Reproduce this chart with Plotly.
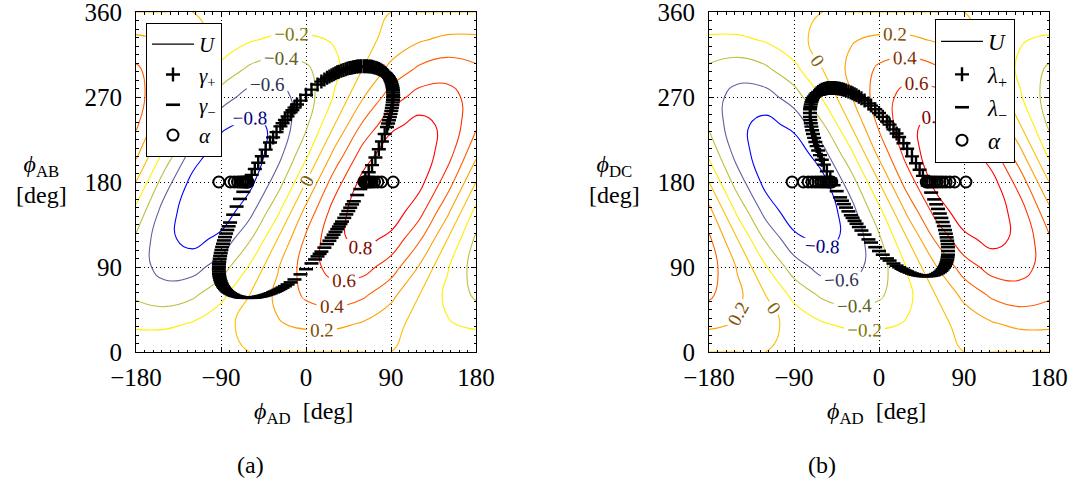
import plotly.graph_objects as go

FONT = "Liberation Serif"

# ---------------- contour field U (read on a 30 deg grid) ----------------
phi_ad_grid = [-180, -150, -120, -90, -60, -30, 0, 30, 60, 90, 120, 150, 180]
phi_y_grid = [0, 30, 60, 90, 120, 150, 180, 210, 240, 270, 300, 330, 360]

# panel (a): U(phi_AD, phi_AB), rows = phi_AB
u_ab = [
    [0, 0, 0, 0, 0, 0, 0, 0, 0, 0, 0, 0, 0],
    [-.25, -.25, -.183, -.067, .067, .183, .25, .25, .183, .067, -.067, -.183, -.25],
    [-.433, -.5, -.433, -.25, 0, .25, .433, .5, .433, .25, 0, -.25, -.433],
    [-.5, -.683, -.683, -.5, -.183, .183, .5, .683, .683, .5, .183, -.183, -.5],
    [-.433, -.75, -.866, -.75, -.433, 0, .433, .75, .866, .75, .433, 0, -.433],
    [-.25, -.683, -.933, -.933, -.683, -.25, .25, .683, .933, .933, .683, .25, -.25],
    [0, -.5, -.866, -1, -.866, -.5, 0, .5, .866, 1, .866, .5, 0],
    [.25, -.25, -.683, -.933, -.933, -.683, -.25, .25, .683, .933, .933, .683, .25],
    [.433, 0, -.433, -.75, -.866, -.75, -.433, 0, .433, .75, .866, .75, .433],
    [.5, .183, -.183, -.5, -.683, -.683, -.5, -.183, .183, .5, .683, .683, .5],
    [.433, .25, 0, -.25, -.433, -.5, -.433, -.25, 0, .25, .433, .5, .433],
    [.25, .183, .067, -.067, -.183, -.25, -.25, -.183, -.067, .067, .183, .25, .25],
    [0, 0, 0, 0, 0, 0, 0, 0, 0, 0, 0, 0, 0],
]

# panel (b): U(phi_AD, phi_DC), rows = phi_DC
u_dc = [
    [0, 0, 0, 0, 0, 0, 0, 0, 0, 0, 0, 0, 0],
    [.25, .183, .067, -.067, -.183, -.25, -.25, -.183, -.067, .067, .183, .25, .25],
    [.433, .25, 0, -.25, -.433, -.5, -.433, -.25, 0, .25, .433, .5, .433],
    [.5, .183, -.183, -.5, -.683, -.683, -.5, -.183, .183, .5, .683, .683, .5],
    [.433, 0, -.433, -.75, -.866, -.75, -.433, 0, .433, .75, .866, .75, .433],
    [.25, -.25, -.683, -.933, -.933, -.683, -.25, .25, .683, .933, .933, .683, .25],
    [0, -.5, -.866, -1, -.866, -.5, 0, .5, .866, 1, .866, .5, 0],
    [-.25, -.683, -.933, -.933, -.683, -.25, .25, .683, .933, .933, .683, .25, -.25],
    [-.433, -.75, -.866, -.75, -.433, 0, .433, .75, .866, .75, .433, 0, -.433],
    [-.5, -.683, -.683, -.5, -.183, .183, .5, .683, .683, .5, .183, -.183, -.5],
    [-.433, -.5, -.433, -.25, 0, .25, .433, .5, .433, .25, 0, -.25, -.433],
    [-.25, -.25, -.183, -.067, .067, .183, .25, .25, .183, .067, -.067, -.183, -.25],
    [0, 0, 0, 0, 0, 0, 0, 0, 0, 0, 0, 0, 0],
]

u_levels = [-0.8, -0.6, -0.4, -0.2, 0.0, 0.2, 0.4, 0.6, 0.8]
level_line_colors = ["#0000ff", "#60609f", "#bfbf40", "#ffef00", "#ffbf00",
                     "#ff9f00", "#ff6000", "#ff3000", "#ff0000"]
level_label_colors = ["#000080", "#303050", "#606020", "#807800", "#806000",
                      "#805000", "#803000", "#801800", "#800000"]

# ---------------- panel (a) markers ----------------
gamma_plus = [
    (-57.5, 187.5), (-54.2, 193.8), (-50.6, 200.4), (-46.8, 207.2), (-42.7, 214.3),
    (-38.1, 221.9), (-34.8, 227.2), (-31.2, 232.8), (-27.1, 238.9), (-24.8, 242.2),
    (-22.3, 245.7), (-19.5, 249.5), (-16.3, 253.7), (-14.4, 256.1), (-12.2, 258.8),
    (-9.5, 262.0), (-5.8, 266.2), (0.0, 272.3),
    (5.8, 277.8), (12.2, 283.2), (16.3, 286.3), (19.5, 288.5), (22.3, 290.3), (24.8, 291.8),
    (27.1, 293.1), (29.2, 294.2), (31.2, 295.2), (33.1, 296.1), (34.8, 296.8), (37.4, 297.9),
    (39.7, 298.7), (42.0, 299.5), (44.1, 300.1), (46.2, 300.7), (48.1, 301.1), (50.0, 301.5),
    (51.8, 301.8), (53.7, 302.2), (55.3, 302.3), (57.0, 302.5), (58.6, 302.6), (61.3, 302.6),
    (62.9, 302.6), (64.5, 302.5), (66.4, 302.4), (68.2, 302.2), (69.9, 301.9), (71.5, 301.5),
    (73.5, 301.0), (75.4, 300.4), (77.1, 299.6), (78.8, 298.8), (80.4, 297.9), (81.9, 296.9),
    (83.3, 295.8), (84.6, 294.6), (85.8, 293.3), (86.9, 291.9), (87.9, 290.4), (88.8, 288.8),
    (89.6, 287.1), (90.3, 285.3), (90.9, 283.4), (91.4, 281.4), (91.8, 279.3), (92.1, 277.1),
    (92.2, 274.7), (92.3, 272.3), (92.2, 269.7), (92.1, 267.1), (91.8, 264.3), (91.4, 261.4),
    (90.9, 258.4), (90.3, 255.3), (89.6, 252.1), (88.8, 248.8), (87.9, 245.4), (86.9, 241.9),
    (85.8, 238.3), (83.3, 230.8), (80.4, 222.9), (77.1, 214.6), (73.5, 206.0), (69.9, 197.9),
    (66.4, 190.4), (62.9, 183.2),
]
gamma_minus = [
    (57.5, 172.5), (54.2, 166.2), (50.6, 159.6), (48.8, 156.3), (46.8, 152.8), (44.8, 149.3),
    (42.7, 145.7), (40.5, 142.0), (38.1, 138.1), (36.5, 135.5), (34.8, 132.8), (33.1, 130.1),
    (31.2, 127.2), (29.2, 124.2), (27.1, 121.1), (24.8, 117.8), (22.3, 114.3), (19.5, 110.5),
    (16.3, 106.3), (14.4, 103.9), (12.2, 101.2), (9.5, 98.0), (5.8, 93.8), (0.0, 87.7),
    (-5.8, 82.2), (-12.2, 76.8), (-16.3, 73.7), (-19.5, 71.5), (-22.3, 69.7), (-24.8, 68.2),
    (-27.1, 66.9), (-29.2, 65.8), (-31.2, 64.8), (-33.1, 63.9), (-34.8, 63.2), (-37.4, 62.1),
    (-39.7, 61.3), (-42.0, 60.5), (-44.1, 59.9), (-46.2, 59.3), (-48.1, 58.9), (-50.0, 58.5),
    (-51.8, 58.2), (-53.7, 57.8), (-55.3, 57.7), (-57.0, 57.5), (-58.6, 57.4), (-61.3, 57.4),
    (-62.9, 57.4), (-64.5, 57.5), (-66.4, 57.6), (-68.2, 57.8), (-69.9, 58.1), (-71.5, 58.5),
    (-73.5, 59.0), (-75.4, 59.6), (-77.1, 60.4), (-78.8, 61.2), (-80.4, 62.1), (-81.9, 63.1),
    (-83.3, 64.2), (-84.6, 65.4), (-85.8, 66.7), (-86.9, 68.1), (-87.9, 69.6), (-88.8, 71.2),
    (-89.6, 72.9), (-90.3, 74.7), (-90.9, 76.6), (-91.4, 78.6), (-91.8, 80.7), (-92.1, 82.9),
    (-92.2, 85.3), (-92.3, 87.7), (-92.2, 90.3), (-92.1, 92.9), (-91.8, 95.7), (-91.4, 98.6),
    (-90.9, 101.6), (-90.3, 104.7), (-89.6, 107.9), (-88.8, 111.2), (-87.9, 114.6), (-86.9, 118.1),
    (-85.8, 121.7), (-84.6, 125.4), (-83.3, 129.2), (-81.9, 133.1), (-80.4, 137.1), (-77.1, 145.4),
    (-73.5, 154.0), (-69.9, 162.1), (-66.4, 169.6), (-62.9, 176.8),
]
alpha_a_x = [-92.3, -80.0, -76.0, -72.5, -70.0, -68.0, -66.5, -65.0, -63.8, -62.8, -62.0, -61.3,
             61.3, 62.0, 62.8, 63.8, 65.0, 66.5, 68.0, 70.0, 72.5, 76.0, 80.0, 92.3]
alpha_a_y = [180] * len(alpha_a_x)

# ---------------- panel (b) markers ----------------
lambda_plus = [
    (-51.6, 183.6), (-55.2, 191.2), (-58.4, 198.4), (-60.6, 203.6), (-62.5, 208.5), (-64.4, 213.4),
    (-66.0, 218.0), (-67.4, 222.4), (-68.7, 226.7), (-69.9, 230.9), (-70.8, 234.8), (-71.6, 238.6),
    (-72.2, 242.2), (-72.7, 245.7), (-73.0, 249.0), (-73.1, 253.1), (-73.0, 257.0), (-72.7, 259.7),
    (-72.2, 262.2), (-71.6, 264.6), (-70.8, 266.8), (-69.9, 268.9), (-68.7, 270.7), (-67.4, 272.4),
    (-66.0, 274.0), (-64.4, 275.4), (-62.5, 276.5), (-60.6, 277.6), (-58.4, 278.4), (-56.8, 278.8),
    (-55.2, 279.2), (-53.5, 279.5), (-51.6, 279.6), (-49.8, 279.6), (-48.1, 279.6), (-46.5, 279.5),
    (-44.8, 279.3), (-43.0, 279.0), (-41.2, 278.7), (-39.2, 278.2), (-37.1, 277.6), (-34.9, 276.9),
    (-32.4, 275.9), (-29.8, 274.8), (-28.0, 274.0), (-25.9, 272.9), (-23.8, 271.8), (-21.3, 270.3),
    (-18.6, 268.6), (-15.3, 266.3), (-11.2, 263.2), (-8.4, 260.9), (-4.0, 257.0), (0.0, 253.1),
    (4.0, 249.0), (8.4, 244.1), (11.2, 240.8), (15.3, 235.7), (18.6, 231.4), (21.3, 227.7),
    (25.9, 221.1), (29.8, 215.2), (34.9, 207.1), (39.2, 199.8), (43.0, 193.0), (46.5, 186.5),
]
lambda_minus = [
    (-48.1, 176.6), (-44.8, 170.3), (-41.2, 163.7), (-39.2, 160.2), (-37.1, 156.6), (-34.9, 152.9),
    (-32.4, 148.9), (-29.8, 144.8), (-28.0, 142.0), (-25.9, 138.9), (-23.8, 135.8), (-21.3, 132.3),
    (-18.6, 128.6), (-15.3, 124.3), (-11.2, 119.2), (-8.4, 115.9), (-4.0, 111.0), (0.0, 106.9),
    (4.0, 103.0), (8.4, 99.1), (11.2, 96.8), (15.3, 93.7), (18.6, 91.4), (21.3, 89.7),
    (23.8, 88.2), (25.9, 87.1), (28.0, 86.0), (29.8, 85.2), (32.4, 84.1), (34.9, 83.1),
    (37.1, 82.4), (39.2, 81.8), (41.2, 81.3), (43.0, 81.0), (44.8, 80.7), (46.5, 80.5),
    (48.1, 80.4), (49.8, 80.4), (51.6, 80.4), (53.5, 80.5), (55.2, 80.8), (56.8, 81.2),
    (58.4, 81.6), (60.6, 82.4), (62.5, 83.5), (64.4, 84.6), (66.0, 86.0), (67.4, 87.6),
    (68.7, 89.3), (69.9, 91.1), (70.8, 93.2), (71.6, 95.4), (72.2, 97.8), (72.7, 100.3),
    (73.0, 103.0), (73.1, 106.9), (73.0, 111.0), (72.7, 114.3), (72.2, 117.8), (71.6, 121.4),
    (70.8, 125.2), (69.9, 129.1), (68.7, 133.3), (67.4, 137.6), (66.0, 142.0), (64.4, 146.6),
    (62.5, 151.5), (60.6, 156.4), (58.4, 161.6), (55.2, 168.8), (51.6, 176.4),
]
alpha_b_x = [-92.0, -80.0, -75.0, -71.0, -67.5, -64.5, -61.5, -59.0, -56.5, -54.5, -52.8, -51.3, -50.0,
             50.0, 51.3, 52.8, 54.5, 56.5, 59.0, 61.5, 64.5, 67.5, 71.0, 75.0, 80.0, 92.0]
alpha_b_y = [180] * len(alpha_b_x)

x_ticks = [-180, -90, 0, 90, 180]
y_ticks = [0, 90, 180, 270, 360]

PHI = "\u03d5"

# ---------------- figure ----------------
fig = go.Figure()


def add_contours(z, xa, ya):
    for lv, lc, tc in zip(u_levels, level_line_colors, level_label_colors):
        fig.add_trace(go.Contour(
            x=phi_ad_grid, y=phi_y_grid, z=z, xaxis=xa, yaxis=ya,
            autocontour=False,
            contours=dict(start=lv, end=lv, size=1, coloring="none", showlabels=True,
                          labelfont=dict(family=FONT, size=19, color=tc)),
            line=dict(color=lc, width=1.1, smoothing=1.3),
            showscale=False, showlegend=False, hoverinfo="skip"))


def add_markers(plus, minus, ax_x, ax_y, xa, ya, leg, sym):
    fig.add_trace(go.Scatter(x=[None], y=[None], mode="lines", xaxis=xa, yaxis=ya,
                             line=dict(color="black", width=1.2), name="<i>U</i>", legend=leg))
    fig.add_trace(go.Scatter(x=[p[0] for p in plus], y=[p[1] for p in plus], mode="markers",
                             xaxis=xa, yaxis=ya, legend=leg,
                             name="<i>%s</i><sub>+</sub>" % sym,
                             marker=dict(symbol="cross-thin", size=10, color="black",
                                         line=dict(width=2.4, color="black"))))
    fig.add_trace(go.Scatter(x=[p[0] for p in minus], y=[p[1] for p in minus], mode="markers",
                             xaxis=xa, yaxis=ya, legend=leg,
                             name="<i>%s</i><sub>\u2212</sub>" % sym,
                             marker=dict(symbol="line-ew", size=10, color="black",
                                         line=dict(width=2.6, color="black"))))
    fig.add_trace(go.Scatter(x=ax_x, y=ax_y, mode="markers", xaxis=xa, yaxis=ya, legend=leg,
                             name="<i>\u03b1</i>",
                             marker=dict(symbol="circle-open", size=11, color="black",
                                         line=dict(width=2.0, color="black"))))


add_contours(u_ab, "x", "y")
add_contours(u_dc, "x2", "y2")
add_markers(gamma_plus, gamma_minus, alpha_a_x, alpha_a_y, "x", "y", "legend", "\u03b3")
add_markers(lambda_plus, lambda_minus, alpha_b_x, alpha_b_y, "x2", "y2", "legend2", "\u03bb")

W, H = 1079, 483


def px(xp):
    return xp / W


def py(yp):
    return (H - yp) / H


def axis(dom, rng, ticks, anchor, t0, standoff):
    return dict(domain=dom, range=rng, tickvals=ticks, anchor=anchor, automargin=False,
                ticks="inside", ticklen=5, tickwidth=1, tickcolor="black",
                ticklabeloverflow="allow", ticklabelstandoff=standoff,
                showline=True, linecolor="black", linewidth=1, mirror="allticks",
                showgrid=True, gridcolor="black", griddash="1px,3px", gridwidth=1,
                zeroline=False, tickfont=dict(family=FONT, size=25, color="black"),
                minor=dict(ticks="inside", tick0=t0, dtick=9, ticklen=2.5,
                           tickcolor="black", showgrid=False))


ydom = [py(352), py(12)]
fig.update_layout(
    width=W, height=H, margin=dict(l=0, r=0, t=0, b=0, autoexpand=False),
    paper_bgcolor="white", plot_bgcolor="white",
    font=dict(family=FONT, size=24, color="black"),
    hovermode=False,
    xaxis=axis([px(136), px(476)], [-180, 180], x_ticks, "y", -180, 3),
    yaxis=axis(ydom, [0, 360], y_ticks, "x", 0, 8),
    xaxis2=axis([px(709), px(1049)], [-180, 180], x_ticks, "y2", -180, 3),
    yaxis2=axis(ydom, [0, 360], y_ticks, "x2", 0, 8),
    legend=dict(x=px(146), y=py(23), xanchor="left", yanchor="top",
                bgcolor="white", bordercolor="black", borderwidth=1,
                font=dict(family=FONT, size=21), tracegroupgap=0, itemwidth=42),
    legend2=dict(x=px(935), y=py(19), xanchor="left", yanchor="top",
                 bgcolor="white", bordercolor="black", borderwidth=1,
                 font=dict(family=FONT, size=23), tracegroupgap=0, itemwidth=42),
)

ann = [
    dict(x=px(303), y=py(413), text="<i>" + PHI + "</i><sub>AD</sub>&nbsp;&nbsp;[deg]"),
    dict(x=px(876), y=py(413), text="<i>" + PHI + "</i><sub>AD</sub>&nbsp;&nbsp;[deg]"),
    dict(x=px(41), y=py(179), text="<i>" + PHI + "</i><sub>AB</sub><br>[deg]"),
    dict(x=px(614), y=py(179), text="<i>" + PHI + "</i><sub>DC</sub><br>[deg]"),
    dict(x=px(250), y=py(465), text="(a)"),
    dict(x=px(822), y=py(465), text="(b)"),
]
for a in ann:
    fig.add_annotation(xref="paper", yref="paper", showarrow=False,
                       xanchor="center", yanchor="middle",
                       font=dict(family=FONT, size=24, color="black"), **a)

# put the figure flush with the window corner (no default page margin), no toolbar
fig.write_html("out.html",
               config={"displayModeBar": False, "staticPlot": True},
               post_script="document.body.style.margin='0px';"
                           "document.body.style.overflow='hidden';")
